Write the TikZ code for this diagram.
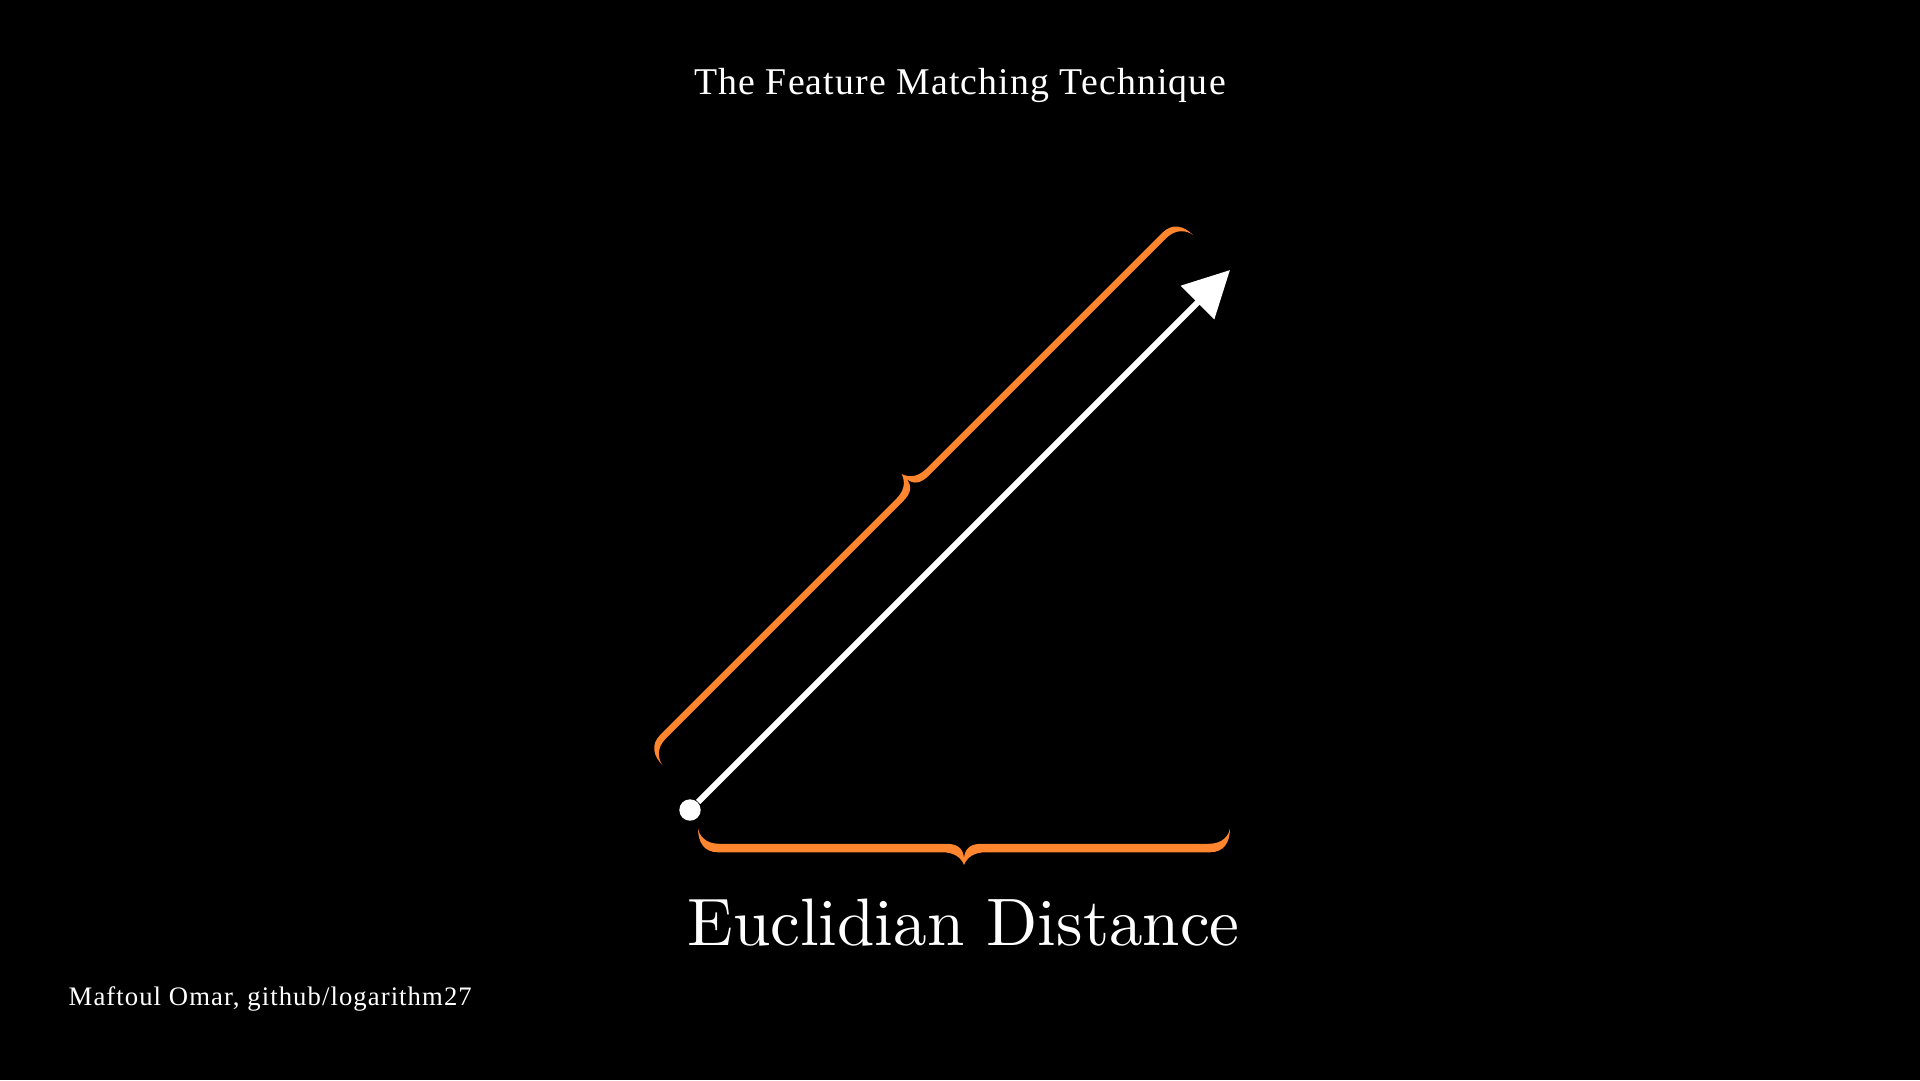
\documentclass[tikz,border=0pt]{standalone}
\usepackage{fontspec}
\usetikzlibrary{arrows.meta}
\newfontfamily\headserif{Liberation Serif}[LetterSpace=3]
\newfontfamily\creditserif{Liberation Serif}[LetterSpace=4]
\newfontfamily\cmten{lmroman10-regular}[Extension=.otf]
\definecolor{mnorange}{HTML}{FF862F}
\tikzset{
  bthick/.store in=\bthick, bthick=8.5,
  titletext/.style={text=white, inner sep=0, font=\headserif\fontsize{10.75pt}{13pt}\selectfont},
  credittext/.style={text=white, inner sep=0, font=\creditserif\fontsize{7.6pt}{9pt}\selectfont},
  bigtext/.style={text=white, inner sep=0, font=\cmten\fontsize{19.1pt}{22pt}\selectfont},
  dotnode/.style={circle, fill=white, inner sep=0, minimum size=2.14mm},
  vec/.style={white, line width=0.6mm, -{Triangle[length=4.6mm, width=4.6mm]}},
  % curly brace of length #1: ends at y=0, bulge toward +y
  cbrace/.pic={
    \pgfmathsetmacro\brlen{#1}
    \pgfmathsetmacro\brmid{#1/2}
    \pgfmathsetmacro\brup{20-\bthick/2}
    \pgfmathsetmacro\brdn{20+\bthick/2}
    \fill[mnorange] (0,0) .. controls (0,{\brdn-10}) and (6,\brdn) .. (20,\brdn)
      -- ({\brmid-22},\brdn) .. controls ({\brmid-10},\brdn) and ({\brmid-3},{\brdn+5}) .. (\brmid,37)
      .. controls ({\brmid+3},{\brdn+5}) and ({\brmid+10},\brdn) .. ({\brmid+22},\brdn)
      -- ({\brlen-20},\brdn) .. controls ({\brlen-6},\brdn) and (\brlen,{\brdn-10}) .. (\brlen,0)
      .. controls ({\brlen-1},8) and ({\brlen-8},\brup) .. ({\brlen-21},\brup)
      -- ({\brmid+18},\brup) .. controls ({\brmid+7},\brup) and ({\brmid+1},{\brup+4}) .. (\brmid,30)
      .. controls ({\brmid-1},{\brup+4}) and ({\brmid-7},\brup) .. ({\brmid-18},\brup)
      -- (21,\brup) .. controls (8,\brup) and (1,8) .. (0,0) -- cycle;
  }
}
\begin{document}
\begin{tikzpicture}[x=0.1mm, y=-0.1mm]
  \fill[black] (0,0) rectangle (1920,1080);
  \useasboundingbox (0,0) rectangle (1920,1080);

  \node[titletext, anchor=base] (title) at (960,94) {The Feature Matching Technique};

  % vector from the origin dot to its head
  \node[dotnode] (origin) at (690,810) {};
  \coordinate (head) at (1230,270);
  \draw[vec] (origin) -- (head);

  % brace along the vector and brace under its horizontal extent
  \pic[bthick=6.5, rotate=225] at (1193,235) {cbrace=750};
  \pic[bthick=8.5] at (698,828) {cbrace=532};

  \node[bigtext, anchor=base] (label) at (963.5,945) {Euclidian Distance};
  \node[credittext, anchor=base west] (credit) at (68,1005) {Maftoul Omar, github/logarithm27};
\end{tikzpicture}
\end{document}
